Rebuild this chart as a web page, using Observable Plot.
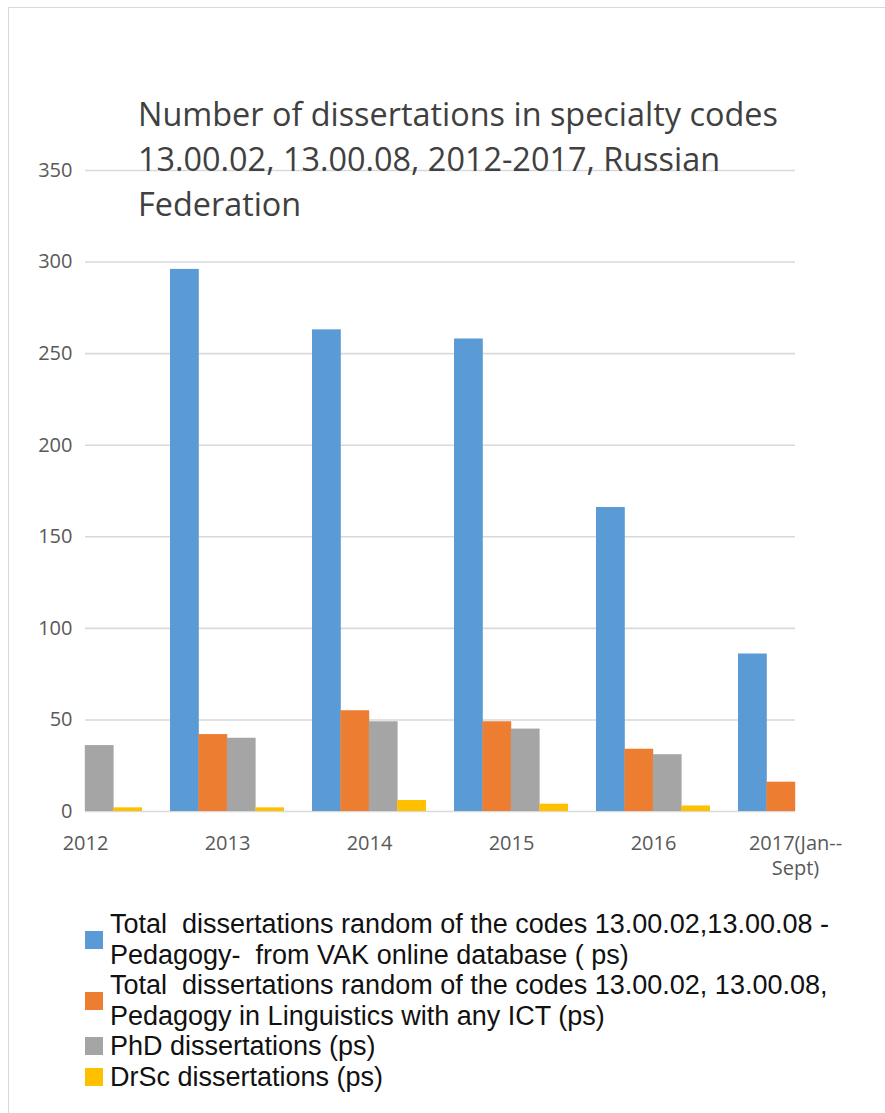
<!DOCTYPE html>
<html>
<head>
<meta charset="utf-8">
<script src="https://cdn.jsdelivr.net/npm/d3@7"></script>
<script src="https://cdn.jsdelivr.net/npm/@observablehq/plot@0.6"></script>
<style>
  html, body { margin: 0; padding: 0; background: #fff; width: 885px; height: 1113px; overflow: hidden; }
  #frame { position: absolute; left: 8px; top: 7px; width: 940px; height: 1200px; border: 1.5px solid #d9d9d9; box-sizing: border-box; }
  #chart { position: absolute; left: 0; top: 0; }
  #title { position: absolute; left: 138px; top: 91px; font-family: "Open Sans", sans-serif; font-size: 32.4px; line-height: 45px; color: #404040; white-space: pre; }
  #legend { position: absolute; left: 85px; top: 909px; font-family: "Liberation Sans", Arial, sans-serif; font-size: 27px; line-height: 30.5px; color: #111; }
  .item { display: flex; align-items: center; }
  .sw { width: 18px; height: 18px; flex: none; margin-right: 7px; }
</style>
</head>
<body>
<div id="frame"></div>
<div id="chart"></div>
<div id="title"></div>
<div id="legend"></div>
<script>
// Years on the category axis
const years = ["2012", "2013", "2014", "2015", "2016", "2017(Jan--\nSept)"];

// Series names (legend text)
const seriesNames = [
  "Total  dissertations random of the codes 13.00.02,13.00.08 -\nPedagogy-  from VAK online database ( ps)",
  "Total  dissertations random of the codes 13.00.02, 13.00.08,\nPedagogy in Linguistics with any ICT (ps)",
  "PhD dissertations (ps)",
  "DrSc dissertations (ps)"
];
const seriesColors = ["#5b9bd5", "#ed7d31", "#a5a5a5", "#ffc000"];

// Values per year (null = no bar)
const totalVak = [null, 296, 263, 258, 166, 86];
const totalIct = [null, 42, 55, 49, 34, 16];
const phd      = [36, 40, 49, 45, 31, null];
const drsc     = [2, 2, 6, 4, 3, null];

const yTicks = [0, 50, 100, 150, 200, 250, 300, 350];
const titleText = "Number of dissertations in specialty codes\n13.00.02, 13.00.08, 2012-2017, Russian\nFederation";

const seriesValues = [totalVak, totalIct, phd, drsc];
const rows = seriesValues.map((vals, j) =>
  years.map((year, i) => ({year, value: vals[i], series: j})).filter(d => d.value != null)
);

const W = 885, H = 890;
const mL = 85, mR = 90, mT = 170, mB = 79;
// band scale whose first and last band centres sit on the frame edges
const step = (W - mL - mR) / (years.length - 1);
const xRange = [mL - step / 2, W - mR + step / 2];
const bandwidth = step * 0.8;
const barW = bandwidth / 4;

const font = "'Open Sans', sans-serif";

const chart = Plot.plot({
  width: W,
  height: H,
  marginLeft: mL,
  marginRight: mR,
  marginTop: mT,
  marginBottom: mB,
  style: {fontFamily: font, background: "transparent"},
  x: {type: "band", domain: years, range: xRange, paddingInner: 0.2, paddingOuter: 0.1},
  y: {domain: [0, 350]},
  marks: [
    Plot.ruleY(yTicks, {stroke: "#d9d9d9", strokeWidth: 1.6}),
    ...rows.map((data, j) =>
      Plot.barY(data, {
        x: "year",
        y: "value",
        fill: seriesColors[j],
        insetLeft: j * barW,
        insetRight: (3 - j) * barW
      })
    ),
    Plot.axisY({ticks: yTicks, tickSize: 0, tickPadding: 13, fontSize: 20, fill: "#595959", label: null}),
    Plot.axisX({tickSize: 0, tickPadding: 21, fontSize: 20, fill: "#595959", lineHeight: 1.25, label: null})
  ]
});
document.getElementById("chart").appendChild(chart);

document.getElementById("title").textContent = titleText;

const legend = document.getElementById("legend");
seriesNames.forEach((name, j) => {
  const item = document.createElement("div");
  item.className = "item";
  const sw = document.createElement("div");
  sw.className = "sw";
  sw.style.background = seriesColors[j];
  const txt = document.createElement("div");
  txt.style.whiteSpace = "pre";
  txt.textContent = name;
  item.appendChild(sw);
  item.appendChild(txt);
  legend.appendChild(item);
});
</script>
</body>
</html>
